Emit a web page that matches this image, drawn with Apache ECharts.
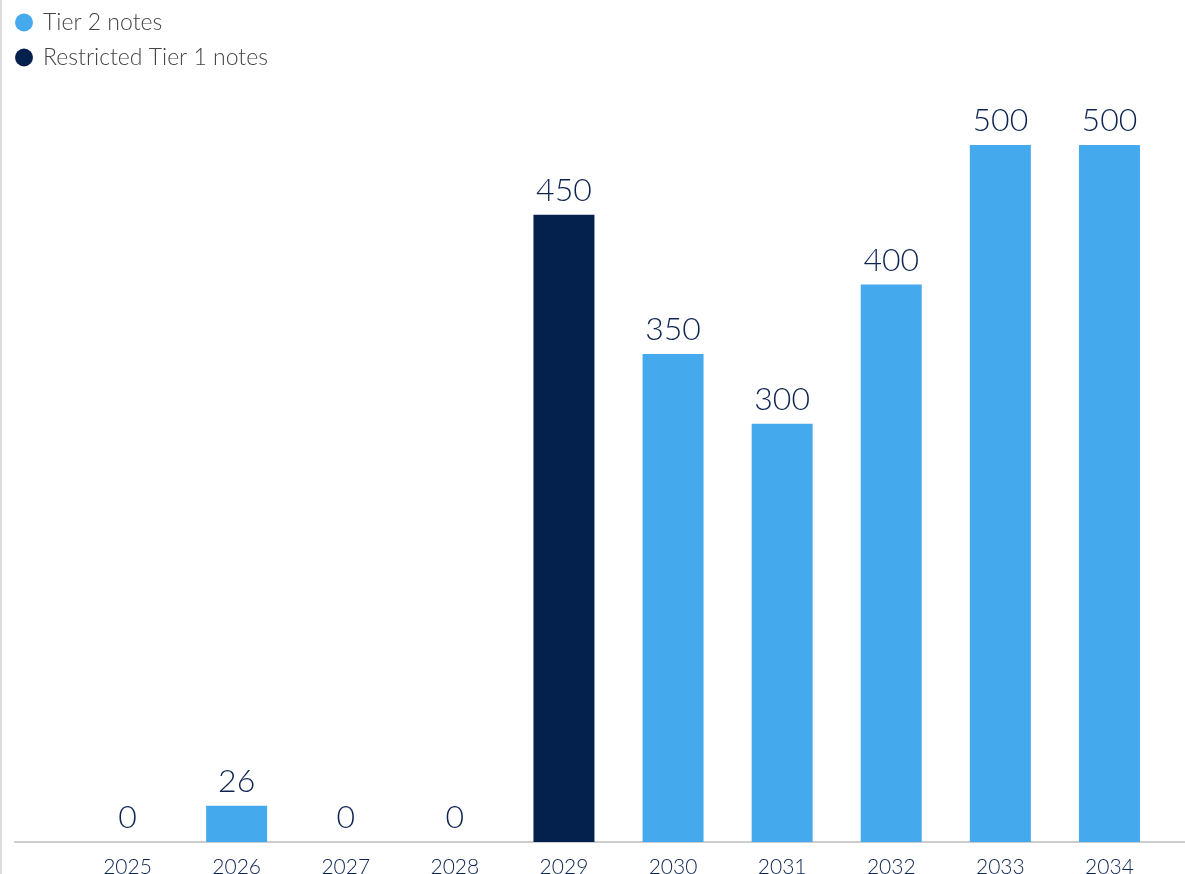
<!DOCTYPE html>
<html>
<head>
<meta charset="utf-8">
<script src="https://cdn.jsdelivr.net/npm/echarts@6/dist/echarts.min.js"></script>
<style>
  html, body { margin: 0; padding: 0; background: #ffffff; overflow: hidden; }
  #chart { width: 1183px; height: 874px; border-left: 2px solid #dcdcdc; }
</style>
</head>
<body>
<div id="chart"></div>
<script>
// Maturity profile by year (amounts)
const years = ['2025', '2026', '2027', '2028', '2029', '2030', '2031', '2032', '2033', '2034'];
const tier2Notes = [0, 26, 0, 0, '-', 350, 300, 400, 500, 500];
const restrictedTier1Notes = ['-', '-', '-', '-', 450, '-', '-', '-', '-', '-'];
const seriesNames = ['Tier 2 notes', 'Restricted Tier 1 notes'];

const LIGHT_BLUE = '#45a9ee';
const NAVY = '#04204d';
const LABEL_COLOR = '#0d2452';
const FONT = 'Lato, "Noto Sans", sans-serif';

const chart = echarts.init(document.getElementById('chart'));

const valueLabel = {
  show: true,
  position: 'top',
  distance: 8,
  color: LABEL_COLOR,
  fontFamily: FONT,
  fontWeight: 300,
  fontSize: 32
};

chart.setOption({
  animation: false,
  textStyle: { fontFamily: FONT },
  legend: {
    orient: 'vertical',
    left: 8,
    top: 6,
    itemGap: 12,
    icon: 'circle',
    itemWidth: 28,
    itemHeight: 18,
    textStyle: { color: '#444444', fontSize: 23, fontFamily: FONT, fontWeight: 300 },
    data: seriesNames
  },
  grid: [
    { left: 71, right: 21, top: 145, bottom: 32, containLabel: false, outerBoundsMode: 'none' },
    { left: 13, right: 0, top: 145, bottom: 32, containLabel: false, outerBoundsMode: 'none' }
  ],
  xAxis: [
    {
      type: 'category',
      gridIndex: 0,
      data: years,
      axisLine: { show: false },
      axisTick: { show: false },
      axisLabel: { color: LABEL_COLOR, fontSize: 21, fontWeight: 300, margin: 15, fontFamily: FONT }
    },
    {
      type: 'value',
      gridIndex: 1,
      min: 0,
      max: 1,
      axisLine: { show: true, onZero: false, lineStyle: { color: '#cccccc', width: 2 } },
      axisTick: { show: false },
      axisLabel: { show: false },
      splitLine: { show: false }
    }
  ],
  yAxis: [
    { type: 'value', gridIndex: 0, min: 0, max: 500, show: false },
    { type: 'value', gridIndex: 1, min: 0, max: 1, show: false }
  ],
  series: [
    {
      name: seriesNames[0],
      type: 'bar',
      data: tier2Notes,
      barWidth: 61,
      barGap: '-100%',
      itemStyle: { color: LIGHT_BLUE },
      label: valueLabel
    },
    {
      name: seriesNames[1],
      type: 'bar',
      data: restrictedTier1Notes,
      barWidth: 61,
      barGap: '-100%',
      itemStyle: { color: NAVY },
      label: valueLabel
    }
  ]
});
</script>
</body>
</html>
